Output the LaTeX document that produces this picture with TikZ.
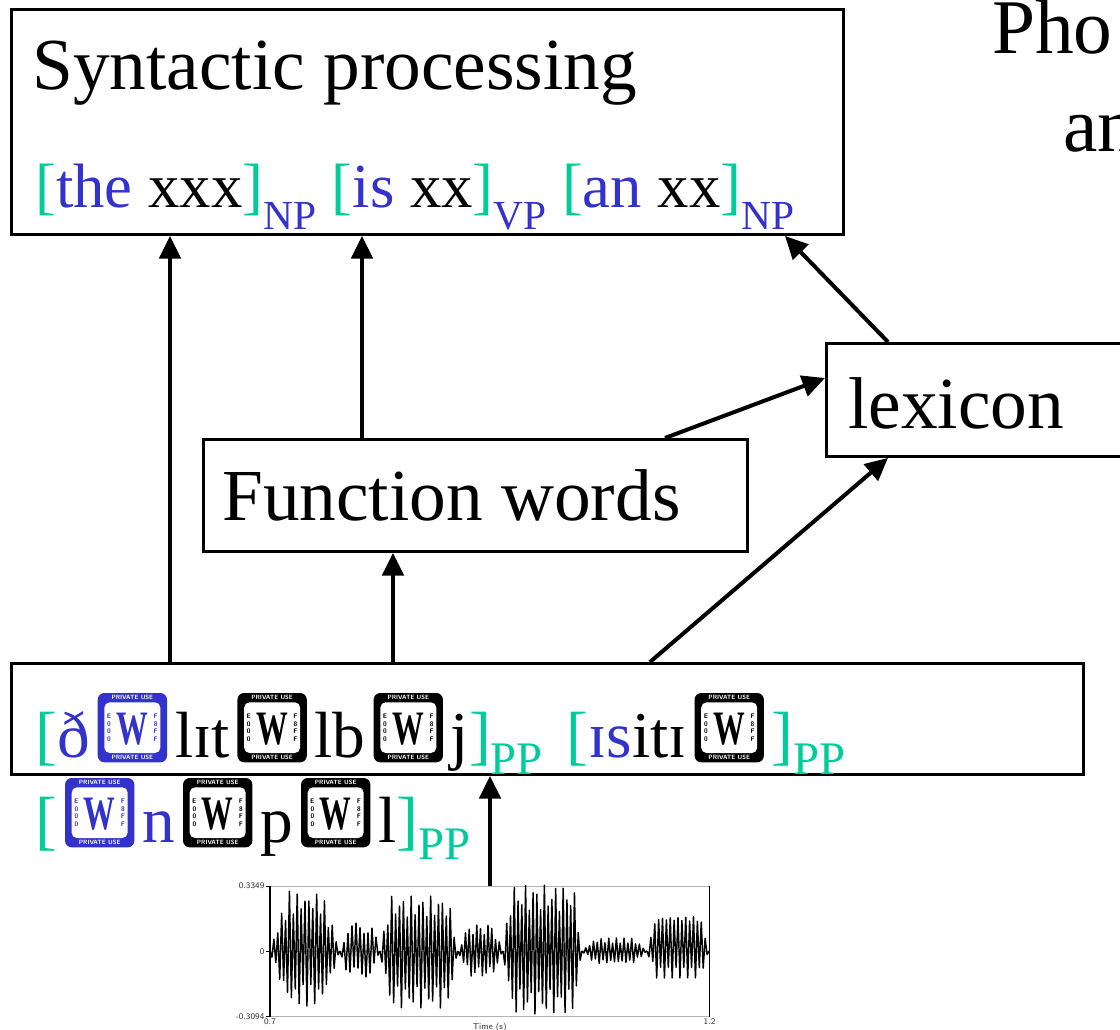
\documentclass[tikz,border=0pt]{standalone}
\usepackage{fontspec}
\setmainfont{Liberation Serif}
\usepackage{xcolor}
\usepackage{graphicx}
\usetikzlibrary{arrows.meta, calc}

\definecolor{brk}{RGB}{0,204,153}
\definecolor{ipa}{RGB}{51,51,204}

% subscript label after a closing bracket
\newcommand{\sublab}[4]{\raisebox{-#3}{\textcolor{#1}{\fontsize{#4}{#4}\selectfont #2}}}
% stand-in box for a private use glyph
\tikzset{puatxt/.style={inner sep=0pt, anchor=center, font=\fontsize{4.6}{5}\sffamily\bfseries}}
\newcommand{\puabox}[1]{\hspace{6pt}\tikz[baseline=4pt]{%
	\fill[#1, rounded corners=5pt] (0pt,0pt) rectangle (52pt,52pt);
	\fill[white, rounded corners=4pt] (5pt,7pt) rectangle (47pt,45pt);
	\node[puatxt, text=white] at (26pt,48.8pt) {PRIVATE USE};
	\node[puatxt, text=white] at (26pt,3.4pt) {PRIVATE USE};
	\node[puatxt, text=#1, align=center, font=\fontsize{5}{5.6}\sffamily\bfseries] at (8.5pt,26pt) {E\\0\\0\\0};
	\node[puatxt, text=#1, align=center, font=\fontsize{5}{5.6}\sffamily\bfseries] at (43.5pt,26pt) {F\\8\\F\\F};
	\node[puatxt, text=#1, font=\fontsize{36}{36}\selectfont\bfseries] at (26pt,25pt) {\scalebox{0.66}[1]{W}};
}\hspace{6pt}}

\begin{document}
\begin{tikzpicture}[x=0.75pt, y=-0.75pt,
	box/.style={draw, line width=2.2pt, inner sep=0pt, anchor=north west},
	big/.style={inner sep=0pt, anchor=base west, font=\fontsize{55}{60}\selectfont},
	mid/.style={inner sep=0pt, anchor=base west, font=\fontsize{47}{50}\selectfont},
	ipaline/.style={inner sep=0pt, anchor=base west, font=\fontsize{49}{50}\selectfont},
	arr/.style={line width=3pt, -{Triangle[length=17pt,width=16pt]}},
	axlab/.style={inner sep=1pt, text=black!80, font=\fontsize{6.5}{6.5}\sffamily},
	wave/.style={line width=1.1pt, line join=round}]

	\def\px{0.75pt}
	\def\zy{951}

	\useasboundingbox (0,0) rectangle (1120,1030);

	% boxes
	\node[box, minimum width=832*\px, minimum height=225*\px] (syn) at (10,8) {};
	\node[box, minimum width=544*\px, minimum height=112*\px] (fw) at (202,438) {};
	\node[box, minimum width=320*\px, minimum height=113*\px] (lex) at (825,342) {};
	\node[box, minimum width=1072*\px, minimum height=111*\px] (phon) at (10,662) {};

	% texts
	\node[big] (syntitle) at (32,90) {Syntactic processing};
	\node[mid] (synline) at (35,208) {\textcolor{brk}{[}\textcolor{ipa}{the} xxx\textcolor{brk}{]}\sublab{ipa}{NP}{16pt}{31} \textcolor{brk}{[}\textcolor{ipa}{is} xx\textcolor{brk}{]}\sublab{ipa}{VP}{16pt}{31} \textcolor{brk}{[}\textcolor{ipa}{an} xx\textcolor{brk}{]}\sublab{ipa}{NP}{16pt}{31}};
	\node[big, font=\fontsize{58}{60}\selectfont] (pho) at (992,54) {Pho};
	\node[big, font=\fontsize{58}{60}\selectfont] (an) at (1063,152) {an};
	\node[big] (fwtext) at (222,520) {Function words};
	\node[big] (lextext) at (848,428) {lexicon};
	\node[ipaline] (phonline) at (35,757) {\textcolor{brk}{[}\textcolor{ipa}{ð\puabox{ipa}}lɪt\puabox{black}lb\puabox{black}j\textcolor{brk}{]}\sublab{brk}{PP}{13pt}{35}\hspace{18pt}\textcolor{brk}{[}\textcolor{ipa}{ɪs}itɪ\puabox{black}\textcolor{brk}{]}\sublab{brk}{PP}{13pt}{35}};
	\node[ipaline] (phonrest) at (35,842) {\textcolor{brk}{[}\puabox{ipa}\textcolor{ipa}{n}\puabox{black}p\puabox{black}l\textcolor{brk}{]}\sublab{brk}{PP}{13pt}{35}};

	% waveform
	\node[inner sep=0pt, minimum width=439*\px, minimum height=130*\px, anchor=north west] (wv) at (270,886) {};
	\draw[gray!60, line width=0.5pt] (wv.north west) -- (wv.north east);
	\draw[gray!60, line width=0.5pt] (wv.south west) -- (wv.south east);
	\draw[gray!60, line width=0.4pt] (wv.west) -- (wv.east);
	\draw[line width=1pt] (wv.north west) -- (wv.south west);
	\draw[line width=1pt] (wv.north east) -- (wv.south east);
	\foreach \xa/\xb/\ampu/\ampd/\flat/\num in {270/340/60/55/1.3/37, 340/380/28/26/1.6/21, 380/458/55/57/2.5/41, 458/503/27/26/1.4/25, 503/582/66/63/3/43, 582/647/13/13/1.6/35, 647/709/40/27/2.2/33}
	\draw[wave] plot[domain=0:1, samples=\num] ({\xa+(\xb-\xa)*\x}, {\zy - (mod(round(\x*(\num-1)),2)==0 ? \ampu : -\ampd)*min(1,\flat*sin(180*\x))*(0.8+0.2*sin(\x*2900))});
	\draw[line width=0.6pt] (wv.north west) -- ++(-4,0) (wv.west) -- ++(-4,0) (wv.south west) -- ++(-4,0);
	\node[axlab, anchor=east] (ymax) at ($(wv.north west)+(-4,0)$) {0.3349};
	\node[axlab, anchor=east] (yzero) at ($(wv.west)+(-4,0)$) {0};
	\node[axlab, anchor=east] (ymin) at ($(wv.south west)+(-4,0)$) {-0.3094};
	\node[axlab, anchor=north] (xmin) at (wv.south west) {0.7};
	\node[axlab, anchor=north] (xmax) at (wv.south east) {1.2};
	\node[axlab, anchor=north] (xname) at ($(wv.south)+(0,5)$) {Time (s)};

	% arrows
	\coordinate (c1) at (170,0);
	\coordinate (c2) at (362,0);
	\coordinate (c3) at (393,0);
	\coordinate (c4) at (650,0);
	\coordinate (c5) at (888,0);
	\coordinate (c6) at (665,0);
	\coordinate (c7) at (0,378);
	\coordinate (c8) at (785,0);
	\coordinate (c9) at (490,0);
	\draw[arr] (phon.north -| c1) -- (syn.south -| c1);
	\draw[arr] (fw.north -| c2) -- (syn.south -| c2);
	\draw[arr] (phon.north -| c3) -- (fw.south -| c3);
	\draw[arr] (phon.north -| c4) -- (lex.south -| c5);
	\draw[arr] (fw.north -| c6) -- (lex.west |- c7);
	\draw[arr] (lex.north -| c5) -- (syn.south -| c8);
	\draw[arr] (wv.north -| c9) -- (phon.south -| c9);
\end{tikzpicture}
\end{document}
